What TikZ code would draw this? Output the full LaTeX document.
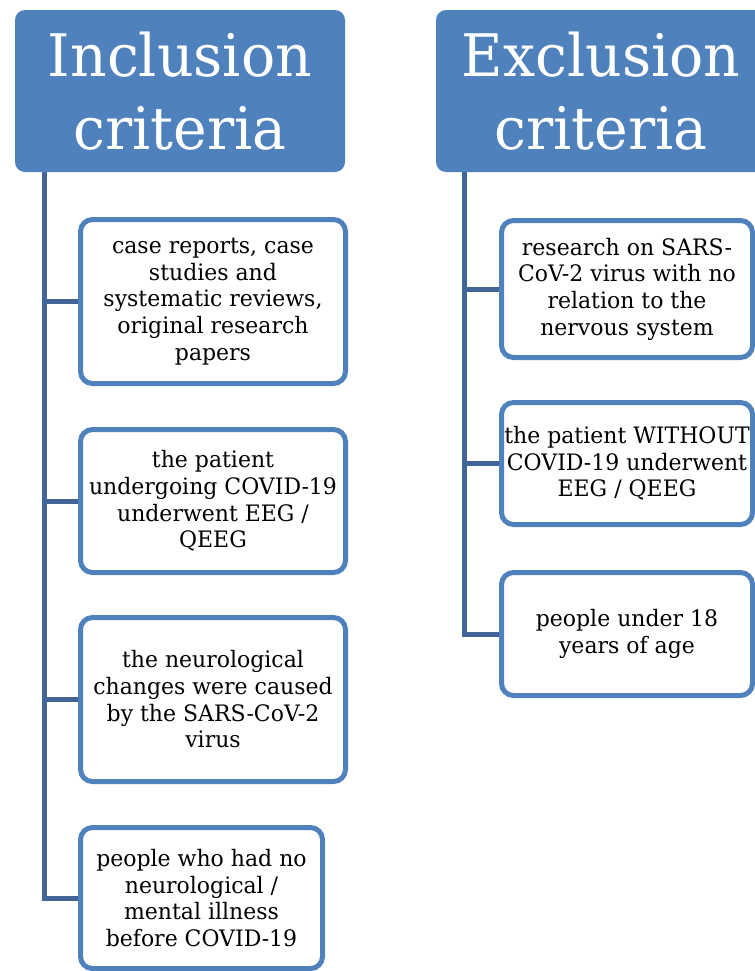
\documentclass[tikz,border=0pt]{standalone}
\usepackage{fontspec}
\setmainfont{DejaVu Serif}[FakeStretch=0.97]
\usetikzlibrary{backgrounds}

\definecolor{headblue}{RGB}{79,129,189}
\definecolor{trunkblue}{RGB}{64,101,150}

\tikzset{
  head/.style={rectangle, rounded corners=7.5pt, fill=headblue, text=white,
    align=center, inner sep=0pt, minimum width=247.5pt, minimum height=121.5pt,
    font=\fontsize{44}{55}\selectfont},
  crit/.style={rectangle, rounded corners=9pt, draw=headblue, line width=3.75pt,
    fill=white, align=center, inner sep=0pt, font=\fontsize{17}{20}\selectfont},
  trunk/.style={draw=trunkblue, line width=3.75pt}
}

\begin{document}
\begin{tikzpicture}[x=0.75pt,y=-0.75pt]
  \clip (0,0) rectangle (755,971);

  % Kopfzeilen
  \node[head] (inchead) at (180,91) {Inclusion\\criteria};
  \node[head] (exchead) at (601,91) {Exclusion\\criteria};

  % Einschlusskriterien
  \node[crit, minimum width=198.75pt, minimum height=123pt] (inc1) at (213,301.5)
    {case reports, case\\studies and\\systematic reviews,\\original research\\papers};
  \node[crit, minimum width=198.75pt, minimum height=107.25pt] (inc2) at (213,501)
    {the patient\\undergoing COVID-19\\underwent EEG /\\QEEG};
  \node[crit, minimum width=198.75pt, minimum height=123pt] (inc3) at (213,699.5)
    {the neurological\\changes were caused\\by the SARS-CoV-2\\virus};
  \node[crit, minimum width=181.5pt, minimum height=105.75pt] (inc4) at (201.5,898)
    {people who had no\\neurological /\\mental illness\\before COVID-19};

  % Ausschlusskriterien
  \node[crit, minimum width=188.25pt, minimum height=102.75pt] (exc1) at (627,289)
    {research on SARS-\\CoV-2 virus with no\\relation to the\\nervous system};
  \node[crit, minimum width=188.25pt, minimum height=91.5pt] (exc2) at (627,463.5)
    {the patient WITHOUT\\COVID-19 underwent\\EEG / QEEG};
  \node[crit, minimum width=188.25pt, minimum height=92.25pt] (exc3) at (627,634)
    {people under 18\\years of age};

  % Verbindungen
  \coordinate (incroot) at ([xshift=22.5pt]inchead.south west);
  \coordinate (excroot) at ([xshift=21.75pt]exchead.south west);
  \begin{scope}[on background layer]
    \foreach \i in {1,...,4}
      \draw[trunk] (incroot) |- (inc\i.west);
    \foreach \i in {1,...,3}
      \draw[trunk] (excroot) |- (exc\i.west);
  \end{scope}

\end{tikzpicture}
\end{document}
